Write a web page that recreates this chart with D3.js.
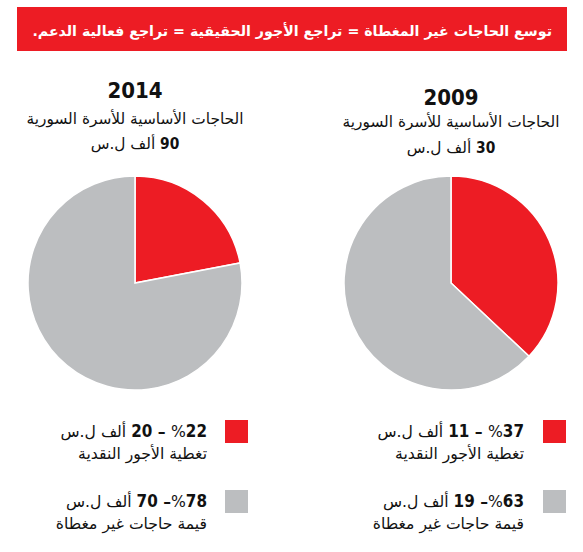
<!DOCTYPE html>
<html lang="ar">
<head>
<meta charset="utf-8">
<script src="https://cdn.jsdelivr.net/npm/d3@7"></script>
<style>
  body { margin: 0; background: #fff; }
  svg { display: block; }
</style>
</head>
<body>
<svg id="chart" width="583" height="552"></svg>
<script>
/* ====== données ====== */
const title = "توسع الحاجات غير المغطاة = تراجع الأجور الحقيقية = تراجع فعالية الدعم.";
const subtitle = "الحاجات الأساسية للأسرة السورية";
const unit = "ألف ل.س";
const years = ["2014", "2009"];
const totals = [90, 30];
const categories = ["تغطية الأجور النقدية", "قيمة حاجات غير مغطاة"];
const wagesPct = [22, 37];
const wagesVal = [20, 11];
const uncoveredPct = [78, 63];
const uncoveredVal = [70, 19];
const colors = ["#ed1c24", "#bcbec0"];

/* ====== mise en page ====== */
const svg = d3.select("#chart");
const arFont = "'DejaVu Sans', sans-serif";
const numFont = "'Liberation Sans Narrow', 'DejaVu Sans Condensed', 'DejaVu Sans', sans-serif";

const cx = [135, 451];
const cy = 283;
const radius = 107;
const yearY = [98, 105];
const subY = [124, 127];
const totalY = [149, 153];
const legendRight = [207, 524];
const swatchX = [225, 543];
const legendY = [420, 490];

// ajuste la taille de police pour une largeur voulue
function fitWidth(sel, target) {
  const len = sel.node().getComputedTextLength();
  const fs = parseFloat(sel.attr("font-size"));
  sel.attr("font-size", (fs * target / len).toFixed(2));
  return fs * target / len;
}

// bandeau titre
svg.append("rect")
  .attr("x", 17).attr("y", 7)
  .attr("width", 550).attr("height", 44)
  .attr("fill", colors[0]);

const titleText = svg.append("text")
  .attr("x", 552).attr("y", 36)
  .attr("direction", "rtl")
  .attr("text-anchor", "start")
  .attr("font-family", arFont)
  .attr("font-weight", "bold")
  .attr("font-size", 17)
  .attr("fill", "#fff")
  .text(title);
fitWidth(titleText, 520);

const pie = d3.pie().sort(null).value(d => d);
const arc = d3.arc().innerRadius(0).outerRadius(radius);

// taille commune des textes de légende
const probe = svg.append("text")
  .attr("font-family", arFont).attr("font-size", 14)
  .attr("direction", "rtl").text(categories[0]);
const legendSize = 14 * 129 / probe.node().getComputedTextLength();
probe.remove();

years.forEach((year, i) => {
  const g = svg.append("g");

  g.append("text")
    .attr("x", cx[i]).attr("y", yearY[i])
    .attr("text-anchor", "middle")
    .attr("font-family", numFont)
    .attr("font-weight", "bold")
    .attr("font-size", 22)
    .attr("fill", "#111")
    .text(year);

  const sub = g.append("text")
    .attr("x", cx[i]).attr("y", subY[i])
    .attr("text-anchor", "middle")
    .attr("direction", "rtl")
    .attr("font-family", arFont)
    .attr("font-size", 14)
    .attr("fill", "#111")
    .text(subtitle);
  fitWidth(sub, 217);

  const tot = g.append("text")
    .attr("x", cx[i]).attr("y", totalY[i])
    .attr("text-anchor", "middle")
    .attr("direction", "rtl")
    .attr("font-family", arFont)
    .attr("font-size", sub.attr("font-size"))
    .attr("fill", "#111");
  tot.append("tspan").attr("font-family", numFont).attr("font-weight", "bold").text(totals[i]);
  tot.append("tspan").text(" " + unit);

  // camembert
  const slices = pie([wagesPct[i], uncoveredPct[i]]);
  g.append("g")
    .attr("transform", `translate(${cx[i]},${cy})`)
    .selectAll("path")
    .data(slices)
    .join("path")
    .attr("d", arc)
    .attr("fill", (d, j) => colors[j])
    .attr("stroke", "#fff")
    .attr("stroke-width", 1.5);

  // légende
  const rows = [
    { pct: wagesPct[i], val: wagesVal[i], sep: " – ", label: categories[0] },
    { pct: uncoveredPct[i], val: uncoveredVal[i], sep: "– ", label: categories[1] }
  ];
  rows.forEach((row, j) => {
    g.append("rect")
      .attr("x", swatchX[i]).attr("y", legendY[j])
      .attr("width", 23).attr("height", 23)
      .attr("fill", colors[j]);

    const l1 = g.append("text")
      .attr("x", legendRight[i]).attr("y", legendY[j] + 17)
      .attr("direction", "rtl")
      .attr("text-anchor", "start")
      .attr("font-family", arFont)
      .attr("font-size", legendSize)
      .attr("fill", "#111");
    l1.append("tspan").text("%");
    l1.append("tspan").attr("font-family", numFont).attr("font-weight", "bold").attr("font-size", legendSize * 1.08).text(row.pct);
    l1.append("tspan").attr("font-weight", "bold").text(row.sep);
    l1.append("tspan").attr("font-family", numFont).attr("font-weight", "bold").attr("font-size", legendSize * 1.08).text(row.val);
    l1.append("tspan").text(" " + unit);

    g.append("text")
      .attr("x", legendRight[i]).attr("y", legendY[j] + 39)
      .attr("direction", "rtl")
      .attr("text-anchor", "start")
      .attr("font-family", arFont)
      .attr("font-size", legendSize)
      .attr("fill", "#111")
      .text(row.label);
  });
});
</script>
</body>
</html>
